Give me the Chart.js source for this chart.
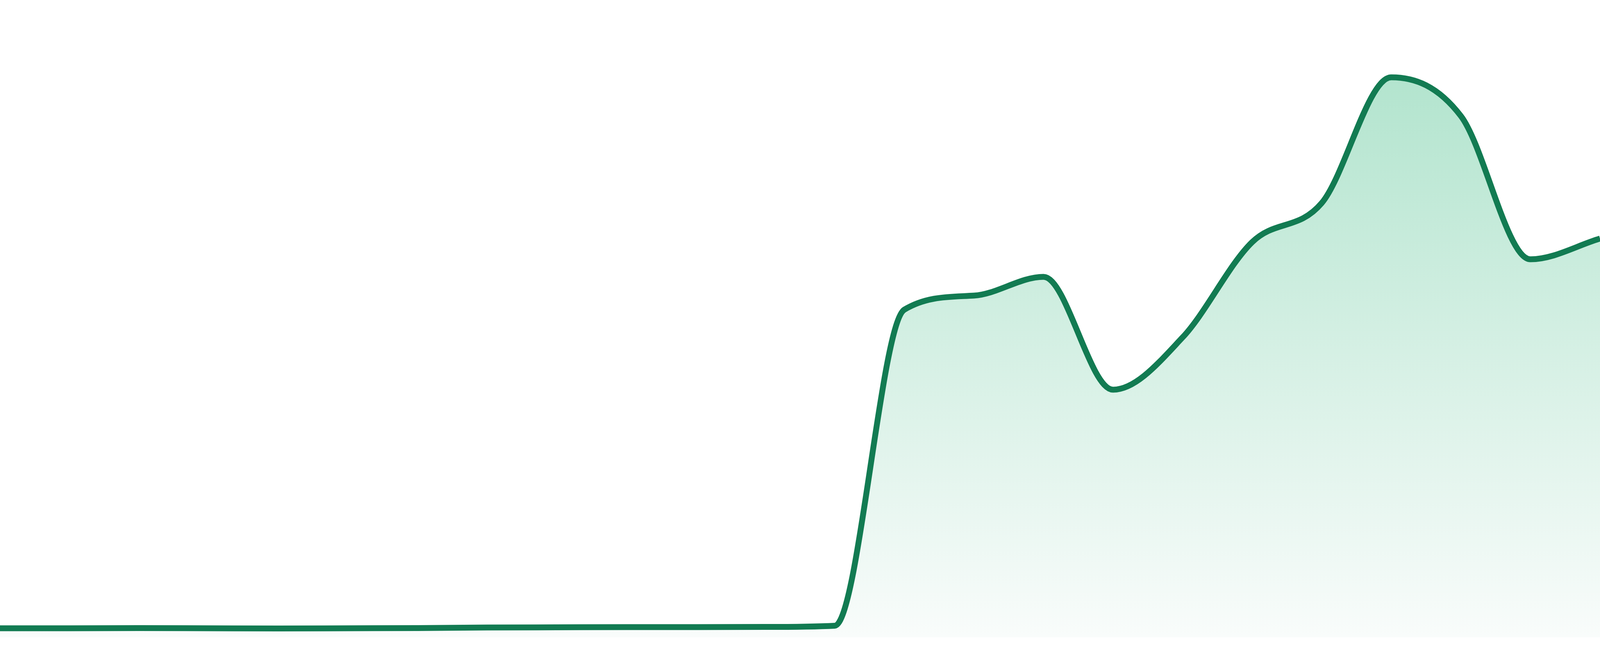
<!DOCTYPE html>
<html>
<head>
<meta charset="utf-8">
<title>Sparkline</title>
<script src="https://cdn.jsdelivr.net/npm/chart.js@4.4.1/dist/chart.umd.min.js"></script>
<style>
  html, body { margin: 0; padding: 0; background: #ffffff; overflow: hidden; }
  .chart-wrap { width: 100vw; height: 100vh; position: relative; }
</style>
</head>
<body>
<div class="chart-wrap"><canvas id="sparkChart"></canvas></div>
<script>
const labels = [
  'P1', 'P2', 'P3', 'P4', 'P5', 'P6', 'P7', 'P8', 'P9', 'P10', 'P11', 'P12',
  'P13', 'P14', 'P15', 'P16', 'P17', 'P18', 'P19', 'P20', 'P21', 'P22', 'P23', 'P24'
];
const values = [
  1.41, 1.41, 1.44, 1.41, 1.38, 1.41, 1.44, 1.53, 1.56, 1.59, 1.59, 1.62,
  1.81, 51.41, 53.61, 56.56, 38.85, 47.06, 62.01, 68.14, 87.87, 81.80, 59.31, 62.56
];
const yMin = 0;
const yMax = 100;

const LINE_COLOR = '#127b52';
const FILL_TOP = '#a9e1c8';
const FILL_BOTTOM = '#f9fcfb';

let sparkChart = null;

function areaGradient(context) {
  const { ctx, chartArea } = context.chart;
  if (!chartArea) return FILL_TOP;
  const g = ctx.createLinearGradient(0, chartArea.top, 0, chartArea.bottom);
  g.addColorStop(0, FILL_TOP);
  g.addColorStop(1, FILL_BOTTOM);
  return g;
}

function initSparkChart() {
  // sizes
  const k = document.querySelector('.chart-wrap').clientHeight / 1680;
  const ctx = document.getElementById('sparkChart').getContext('2d');
  sparkChart = new Chart(ctx, {
    type: 'line',
    data: {
      labels: labels,
      datasets: [{
        data: values,
        borderColor: LINE_COLOR,
        borderWidth: 15 * k,
        backgroundColor: areaGradient,
        fill: 'start',
        pointRadius: 0,
        pointHoverRadius: 0,
        cubicInterpolationMode: 'monotone'
      }]
    },
    options: {
      responsive: true,
      maintainAspectRatio: false,
      animation: false,
      layout: { padding: { top: 0, right: 0, bottom: 48 * k, left: 0 } },
      plugins: {
        legend: { display: false },
        tooltip: { enabled: false }
      },
      scales: {
        x: { display: false, offset: false },
        y: { display: false, min: yMin, max: yMax }
      }
    }
  });
}

document.addEventListener('DOMContentLoaded', initSparkChart);
</script>
</body>
</html>
